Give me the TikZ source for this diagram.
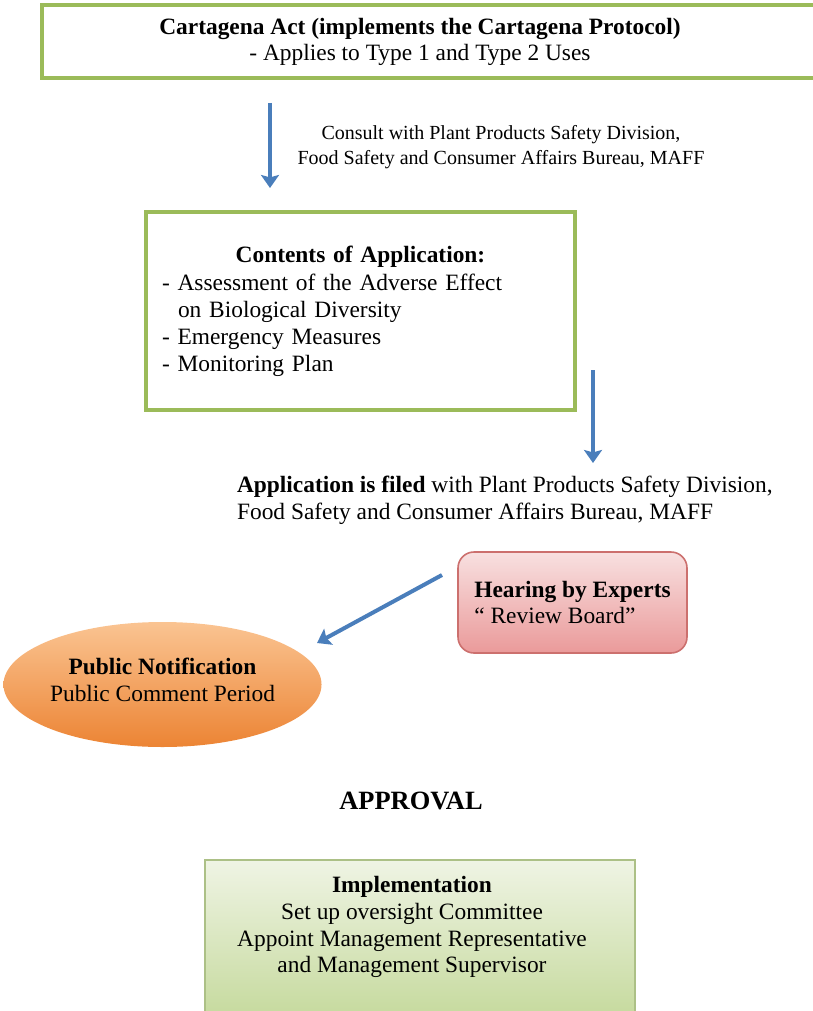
\documentclass[tikz,border=0pt]{standalone}
\usepackage{fontspec}
\setmainfont{Liberation Serif}
\usetikzlibrary{arrows.meta, positioning, shapes.geometric}
\definecolor{leafgreen}{RGB}{155, 187, 89}
\definecolor{flowblue}{RGB}{74, 126, 187}
\definecolor{rosetop}{RGB}{248, 224, 224}
\definecolor{rosebottom}{RGB}{234, 154, 154}
\definecolor{roseline}{RGB}{204, 112, 110}
\definecolor{peachtop}{RGB}{250, 196, 146}
\definecolor{peachbottom}{RGB}{236, 132, 52}
\definecolor{mosstop}{RGB}{239, 244, 228}
\definecolor{mossbottom}{RGB}{198, 218, 158}
\definecolor{mossline}{RGB}{172, 192, 134}
\newcommand{\bodyfont}{\fontsize{11.7}{13.4}\selectfont}

\begin{document}
\begin{tikzpicture}[x=0.5pt, y=-0.5pt,
    every node/.style={font=\bodyfont, text=black},
    framebox/.style={draw=leafgreen, line width=1.6pt},
    flowarrow/.style={line width=2pt, flowblue, -{Stealth[length=6.5pt, width=9pt, inset=1.2pt]}}]
    \useasboundingbox (0,0) rectangle (813,1011);

    % Cartagena Act (box runs off the right edge)
    \draw[framebox] (42,5) rectangle (840,78);
    \node[align=center] (act) at (420,42)
        {\textbf{Cartagena Act (implements the Cartagena Protocol)}\\- Applies to Type 1 and Type 2 Uses};

    % Consultation note
    \node[align=center, font=\fontsize{10}{12.8}\selectfont] (consult) at (501,147)
        {Consult with Plant Products Safety Division,\\Food Safety and Consumer Affairs Bureau, MAFF};

    % Contents of application
    \node[framebox, text width=198.5pt, inner xsep=8pt, minimum height=99pt, align=left] (contents) at (360.5,311)
        {\makebox[\linewidth]{\textbf{Contents of Application:}}\\[1pt]
         - Assessment of the Adverse Effect\\
         \hspace*{8pt}on Biological Diversity\\
         - Emergency Measures\\
         - Monitoring Plan};

    % Filing
    \node[anchor=west, align=left] (filed) at (230,500)
        {\textbf{Application is filed} with Plant Products Safety Division,\\Food Safety and Consumer Affairs Bureau, MAFF};

    % Hearing and public notification
    \node[rounded corners=8pt, draw=roseline, line width=0.8pt, top color=rosetop, bottom color=rosebottom,
          minimum width=114.5pt, minimum height=50.5pt, align=left] (hearing) at (572.5,602.5)
        {\textbf{Hearing by Experts}\\“ Review Board”};
    \node[ellipse, top color=peachtop, bottom color=peachbottom, minimum width=157.5pt, minimum height=62.5pt,
          inner sep=0pt, align=center] (notice) at (162.5,684.5)
        {\textbf{Public Notification}\\Public Comment Period\\[-9pt]};

    \node[font=\fontsize{13.2}{15}\selectfont\bfseries] (approval) at (411,801) {APPROVAL};

    % Implementation (box runs off the bottom edge)
    \shade[top color=mosstop, bottom color=mossbottom, draw=mossline, line width=0.8pt] (205,860) rectangle (635,1016);
    \node[align=center] (impl) at (412,927)
        {\textbf{Implementation}\\Set up oversight Committee\\Appoint Management Representative\\and Management Supervisor};

    % Arrows
    \coordinate (consult top) at (270,103);
    \coordinate (consult end) at (270,188);
    \coordinate (file top) at (593,370);
    \coordinate (file end) at (593,463);
    \coordinate (notice top) at (442,575);
    \coordinate (notice end) at (317,643);
    \draw[flowarrow] (consult top) -- (consult end);
    \draw[flowarrow] (file top) -- (file end);
    \draw[flowarrow] (notice top) -- (notice end);
\end{tikzpicture}
\end{document}
